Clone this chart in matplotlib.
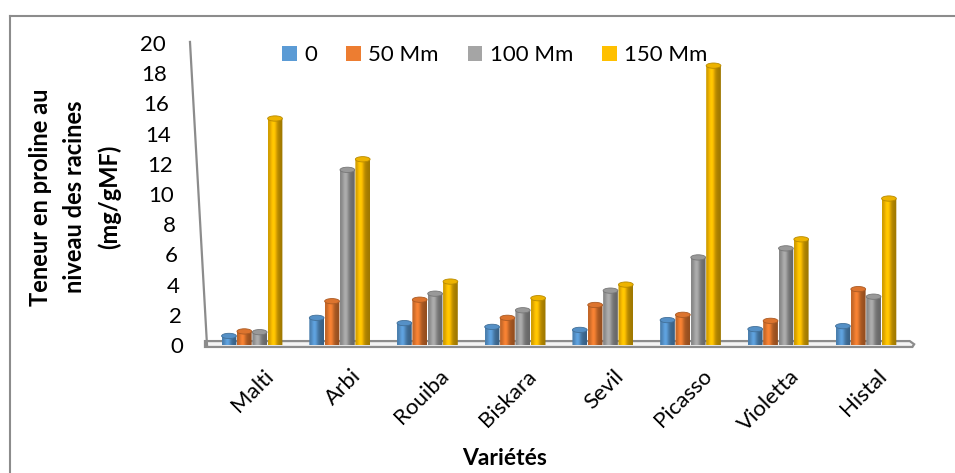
import numpy as np
import matplotlib
matplotlib.use("Agg")
import matplotlib.pyplot as plt
import matplotlib.colors as mcolors
from matplotlib.patches import Ellipse, Patch, PathPatch, Polygon
from matplotlib.path import Path
from matplotlib.transforms import ScaledTranslation

plt.rcParams["font.family"] = ["Lato", "DejaVu Sans"]

varietes = ["Malti", "Arbi", "Rouiba", "Biskara", "Sevil", "Picasso", "Violetta", "Histal"]
series_names = ["0", "50 Mm", "100 Mm", "150 Mm"]
dose_0 = [0.6, 1.8, 1.45, 1.2, 1.0, 1.65, 1.05, 1.25]
dose_50 = [0.9, 2.9, 3.0, 1.8, 2.65, 2.0, 1.6, 3.7]
dose_100 = [0.85, 11.6, 3.4, 2.3, 3.6, 5.8, 6.4, 3.2]
dose_150 = [15.0, 12.3, 4.2, 3.1, 4.0, 18.5, 7.0, 9.7]
colors = ["#5B9BD5", "#ED7D31", "#A5A5A5", "#FFC000"]
y_ticks = list(range(0, 21, 2))

W, H = 955, 473
fig = plt.figure(figsize=(W / 100, H / 100), dpi=100)
ax = fig.add_axes([207 / W, (H - 345) / H, 705.4 / W, 302 / H])
ax.patch.set_visible(False)

bar_w = 0.168
step = 0.175
cap_h = 0.35


def cylinder(x, h, color):
    base = np.array(mcolors.to_rgb(color))
    t = np.linspace(0, 1, 64)
    shade = 0.80 + 0.32 * np.exp(-((t - 0.38) / 0.22) ** 2) - 0.18 * t
    img = np.clip(base[None, :] * shade[:, None], 0, 1)[None, :, :]
    x0, x1 = x - bar_w / 2, x + bar_w / 2
    th = np.linspace(np.pi, 2 * np.pi, 30)
    bottom = np.column_stack([x + bar_w / 2 * np.cos(th), cap_h / 2 * np.sin(th)])
    verts = np.vstack([[x0, h], bottom, [x1, h], [x0, h]])
    clip = PathPatch(Path(verts), transform=ax.transData, facecolor="none",
                     edgecolor="none", clip_on=False)
    ax.add_patch(clip)
    im = ax.imshow(img, extent=(x0, x1, -cap_h / 2, h), aspect="auto",
                   interpolation="bilinear", zorder=2)
    im.set_clip_path(clip)
    ax.add_patch(Ellipse((x, h), bar_w, cap_h, facecolor=base * 0.93,
                         edgecolor=base * 0.72, lw=0.6, zorder=3, clip_on=False))


# floor plate and back wall edge
floor = Polygon([(-0.536, 0.26), (7.50, 0.26), (7.55, 0.05), (7.53, -0.13), (-0.536, -0.13)],
                closed=True, facecolor="#f4f4f4", edgecolor="#8c8c8c", lw=1.6,
                zorder=1, clip_on=False)
ax.add_patch(floor)
ax.plot([-0.707, -0.513], [20.07, 0], color="#8c8c8c", lw=1.6, clip_on=False, zorder=1)

groups = [dose_0, dose_50, dose_100, dose_150]
for j, (vals, c) in enumerate(zip(groups, colors)):
    for i, v in enumerate(vals):
        cylinder(i + (j - 1.5) * step, v, c)

ax.set_xlim(-0.513, 7.53)
ax.set_ylim(0, 20)
for s in ax.spines.values():
    s.set_visible(False)

ax.set_yticks(y_ticks)
ax.set_yticklabels([str(v) for v in y_ticks], fontsize=16)
ax.tick_params(axis="y", length=0, pad=17)
for v, lab in zip(y_ticks, ax.get_yticklabels()):
    lab.set_transform(lab.get_transform() + ScaledTranslation(-0.18 * v / 20, 0, fig.dpi_scale_trans))

ax.set_xticks(range(len(varietes)))
ax.set_xticklabels(varietes, fontsize=16, rotation=45, ha="right", va="top",
                   rotation_mode="anchor")
ax.tick_params(axis="x", length=0, pad=15)
for lab in ax.get_xticklabels():
    lab.set_transform(lab.get_transform() + ScaledTranslation(0.11, 0, fig.dpi_scale_trans))

fig.text(505 / W, 1 - 458 / H, "Variétés", ha="center", va="center",
         fontsize=16.5, fontweight="bold")
fig.text(75 / W, 1 - 197 / H, "Teneur en proline au\nniveau des racines\n(mg/gMF)",
         rotation=90, ha="center", va="center", fontsize=17, fontweight="bold",
         multialignment="center", linespacing=1.6)

handles = [Patch(facecolor=c, edgecolor="none") for c in colors]
fig.legend(handles, series_names, loc="center", bbox_to_anchor=(495 / W, 1 - 55 / H),
           ncol=4, frameon=False, fontsize=16, handlelength=0.65, handleheight=0.65,
           handletextpad=0.35, columnspacing=1.3)

# chart area border
fig.add_artist(plt.Line2D([10 / W, 10 / W], [0, 1 - 16 / H], color="#8c8c8c", lw=1.5))
fig.add_artist(plt.Line2D([10 / W, 1], [1 - 16 / H, 1 - 16 / H], color="#8c8c8c", lw=1.5))

fig.savefig("out.png", dpi=100)
